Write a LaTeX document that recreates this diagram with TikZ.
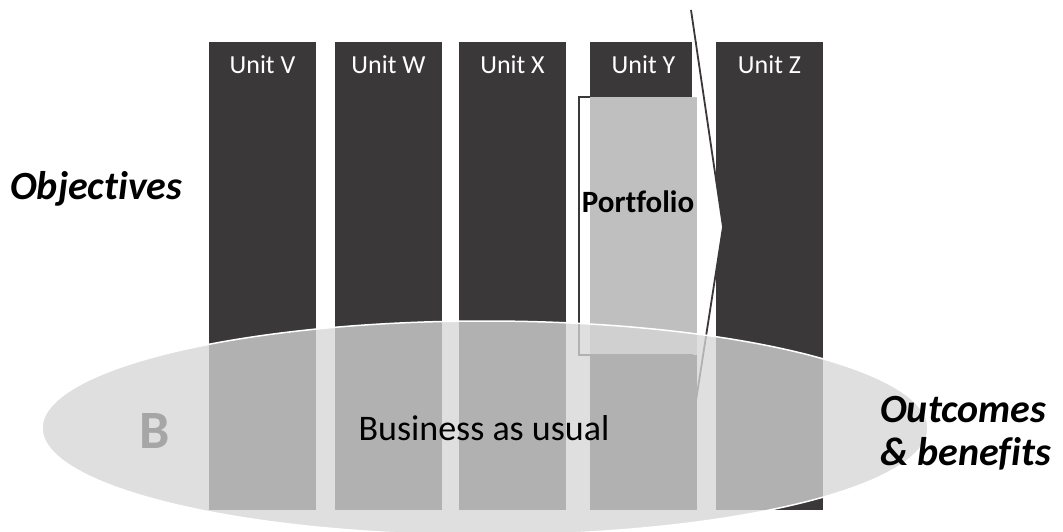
\documentclass[tikz,border=0pt]{standalone}
\usepackage{fontspec}
\setmainfont{Carlito}[Ligatures=NoCommon]
\definecolor{unitdark}{HTML}{3A3838}
\definecolor{usualfill}{HTML}{D6D6D6}
\definecolor{bgrey}{HTML}{A6A6A6}

\begin{document}
\begin{tikzpicture}[x=1pt,y=-1pt,
    unitcol/.style={fill=unitdark},
    unitlabel/.style={text=white,anchor=base,inner sep=0pt,font=\fontsize{26}{30}\selectfont},
    outline/.style={draw=unitdark,line width=1.8pt},
    bigtext/.style={anchor=base west,inner sep=0pt,font=\fontsize{40}{44}\selectfont\bfseries\itshape}]
  \useasboundingbox (0,0) rectangle (1063,531);

  \foreach \name/\left in {V/209,W/335,X/459,Y/590,Z/716} {
    \fill[unitcol] (\left,42) rectangle ++(107,468);
    \node[unitlabel] (unit\name) at (\left+53.5,73) {Unit \name};
  }

  \fill[white,opacity=.68] (579,97) rectangle (697,355);
  \fill[white] (692,42) -- (695.7,42) -- (723,227) -- (703,360) -- (697,360) -- (697,97) -- (692,97) -- cycle;
  \draw[outline] (590,97) -- (579,97) -- (579,355) -- (693,355);
  \draw[outline] (691,10) -- (723,227) -- (693,420);
  \node[anchor=base,inner sep=0pt,font=\fontsize{31}{34}\selectfont\bfseries] (portfolio) at (638,212) {Portfolio};

  \fill[usualfill,opacity=.77] (485,428) ellipse [x radius=443,y radius=107];
  \draw[white,line width=1.5pt] (485,428) ellipse [x radius=443,y radius=107];
  \node[anchor=base,inner sep=0pt,text=bgrey,font=\fontsize{54}{60}\selectfont\bfseries] (bletter) at (155,448) {B};
  \node[anchor=base,inner sep=0pt,font=\fontsize{36}{40}\selectfont] (usual) at (484,440) {Business as usual};

  \node[bigtext] (objectives) at (10,199) {Objectives};
  \node[bigtext] (outcomes) at (880,422) {Outcomes};
  \node[bigtext] (benefits) at (880,465) {\& benefits};
\end{tikzpicture}
\end{document}
